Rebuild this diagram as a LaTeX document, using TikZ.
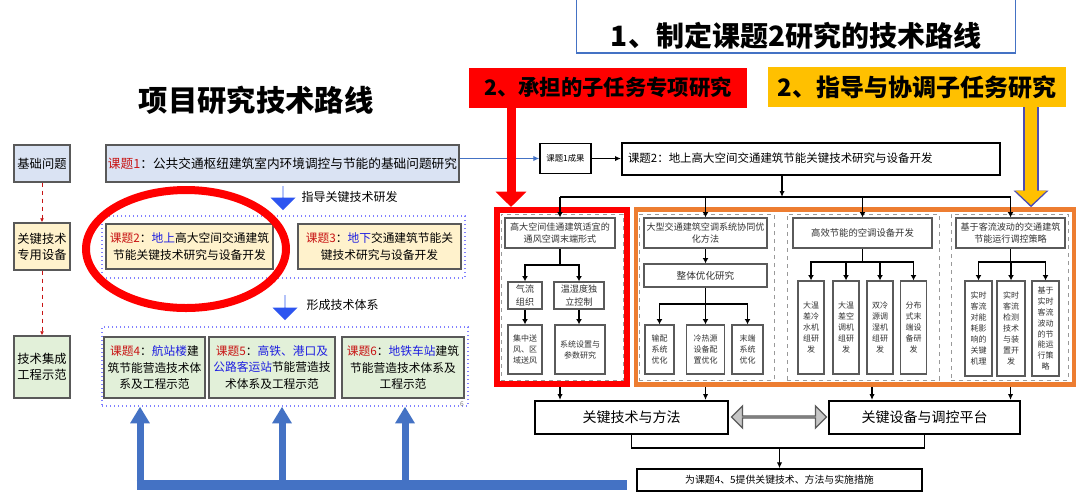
\documentclass[tikz,border=0pt]{standalone}
\usepackage{fontspec}
\setmainfont{Noto Sans CJK SC}
\usetikzlibrary{arrows.meta,positioning,shapes.arrows,shapes.geometric}

\definecolor{kred}{RGB}{200,20,20}
\definecolor{kblue}{RGB}{30,30,225}
\definecolor{lblue}{RGB}{218,227,243}
\definecolor{lyellow}{RGB}{255,242,204}
\definecolor{lgreen}{RGB}{226,240,217}
\definecolor{obar}{RGB}{237,125,49}
\definecolor{ybox}{RGB}{255,192,0}
\definecolor{mblue}{RGB}{68,114,196}
\definecolor{vblue}{RGB}{45,85,240}
\definecolor{dgray}{RGB}{90,90,90}

\newcommand{\kt}[1]{\textcolor{kred}{课题#1}}
\newcommand{\kw}[1]{\textcolor{kblue}{#1}}

\tikzset{%
  >={Latex[width=4pt,length=4.5pt]},
  % sizes are given in pixels of the slide
          wh/.style 2 args = {minimum width=#1*0.75pt, minimum height=#2*0.75pt},
     sidebox/.style = {rectangle, draw=gray!70!black, line width=1.1pt,
                       align=center, inner sep=1pt,
                       font=\fontsize{9.2}{12}\selectfont},
    topicbox/.style = {sidebox, font=\fontsize{8.8}{12.5}\selectfont},
    groupbox/.style = {draw=blue!50, dotted, line width=1pt},
     headbox/.style = {rectangle, draw=black, line width=1.5pt, align=center},
    panelbox/.style = {draw=gray!80, dashed, line width=0.6pt},
     cellbox/.style = {rectangle, draw=dgray, line width=1pt, align=center,
                       inner sep=0.5pt, text=black!80,
                       font=\fontsize{6.8}{9.3}\selectfont},
     tallbox/.style = {cellbox, font=\fontsize{6}{8.2}\selectfont},
        wire/.style = {line width=1.4pt, >={Latex[width=4.5pt,length=4pt]}},
     bluebar/.style = {mblue, line width=7.5pt},
       barup/.style = {mblue, line width=5.25pt, -{Triangle[width=14pt,length=12.5pt]}},
     bigdown/.style = {single arrow, rotate=-90, fill=vblue, inner sep=0pt,
                       single arrow head extend=5.25pt},
     reddash/.style = {dashed, kred, line width=0.7pt, -{Latex[width=3pt,length=3pt]}},
}

\begin{document}
\begin{tikzpicture}[x=0.75pt, y=-0.75pt]
\useasboundingbox[fill=white] (0,0) rectangle (1080,501);

% titles
\node (PT) [font=\fontsize{22}{22}\selectfont\bfseries] at (256,100) {项目研究技术路线};
\node (TB) [draw=mblue, line width=0.8pt, wh={439}{80}] at (796,13) {};
\node (TT) [font=\fontsize{21}{21}\selectfont\bfseries] at (796,36) {1、制定课题2研究的技术路线};
\node (RB) [fill=red, wh={278}{40}, font=\fontsize{16}{16}\selectfont\bfseries] at (608,87.5) {2、承担的子任务专项研究};
\node (YB) [fill=ybox, wh={298}{40}, font=\fontsize{18}{18}\selectfont\bfseries] at (917,87) {2、指导与协调子任务研究};

% left column
\node (L1) [sidebox, fill=lblue, wh={56}{37}] at (42,163.5) {基础问题};
\node (L2) [sidebox, fill=lyellow, wh={56}{47}] at (42,246.5) {关键技术\\专用设备};
\node (L3) [sidebox, fill=lgreen, wh={56}{62}] at (42,367) {技术集成\\工程示范};
\draw[reddash] (L1) -- (L2);
\draw[reddash] (L2) -- (L3);

% project topics
\node (KT1) [topicbox, fill=lblue, wh={353}{37}, font=\fontsize{9.5}{12}\selectfont] at (282.5,163.5) {\kt{1}：公共交通枢纽建筑室内环境调控与节能的基础问题研究};
\node (G1) [groupbox, wh={363}{62}] at (283.5,247) {};
\node (KT2) [topicbox, fill=lyellow, wh={167}{45}] at (189.5,246.5) {\kt{2}：\kw{地上}高大空间交通建筑\\节能关键技术研究与设备开发};
\node (KT3) [topicbox, fill=lyellow, wh={163}{45}] at (379.5,246.5) {\kt{3}：\kw{地下}交通建筑节能关\\键技术研究与设备开发};
\node (G2) [groupbox, wh={366}{79}] at (285,366.5) {};
\node (KT4) [topicbox, fill=lgreen, wh={101}{61}] at (154.5,367.5) {\kt{4}：\kw{航站楼}建\\筑节能营造技术体\\系及工程示范};
\node (KT5) [topicbox, fill=lgreen, wh={126}{61}] at (272,367.5) {\kt{5}：\kw{高铁、港口及}\\\kw{公路客运站}节能营造技\\术体系及工程示范};
\node (KT6) [topicbox, fill=lgreen, wh={122}{61}] at (403,367.5) {\kt{6}：\kw{地铁车站}建筑\\节能营造技术体系及\\工程示范};
\node (PN) [font=\fontsize{5}{5}\selectfont, text=gray] at (462,404) {6};

\node (BA1) [bigdown, wh={25}{24}] at (283,198) {};
\node (GL) [anchor=west, font=\fontsize{9}{11}\selectfont] at (297,197) {指导关键技术研发};
\node (BA2) [bigdown, wh={25}{25}] at (285,307.5) {};
\node (XL) [anchor=west, font=\fontsize{9}{11}\selectfont] at (302,305) {形成技术体系};

\node (EL) [ellipse, draw=red, line width=6pt, wh={200}{118}] at (186,249) {};

% feedback bar
\coordinate (b0) at (136.5,485);
\coordinate (b1) at (140,485);
\coordinate (b2) at (282,485);
\coordinate (b3) at (405,485);
\coordinate (b9) at (627,485);
\draw[bluebar] (b0) -- (b9);
\draw[barup] (b1) -- (b1 |- G2.south);
\draw[barup] (b2) -- (b2 |- G2.south);
\draw[barup] (b3) -- (b3 |- G2.south);

% topic 2 route
\node (R1) [rectangle, draw=black, line width=1pt, wh={51}{30}, font=\fontsize{6.3}{7}\selectfont] at (565.5,158.5) {课题1成果};
\node (K2T) [headbox, wh={378}{32}, text width=274.5pt, inner xsep=4.5pt, align=left, font=\fontsize{8.6}{10}\selectfont] at (811,158.5) {课题2：地上高大空间交通建筑节能关键技术研究与设备开发};
\draw[->, mblue, line width=1.3pt] (KT1.east |- R1) -- (R1);
\draw[->, line width=1pt] (R1) -- (K2T);

\node (RF) [draw=red, line width=4.5pt, wh={130}{174}] at (562,297) {};
\node (OF) [draw=obar, line width=3.4pt, wh={438}{175}] at (855,297) {};
\node (P1) [panelbox, wh={122}{166}] at (562,297) {};
\node (P2) [panelbox, wh={135}{166}] at (706.5,297) {};
\node (P3) [panelbox, wh={152}{166}] at (863,297) {};
\node (P4) [panelbox, wh={117}{166}] at (1009.5,297) {};

% panel 1
\node (T1) [cellbox, wh={110}{30}] at (560,233) {高大空间佳通建筑适宜的\\通风空调末端形式};
\node (A1) [cellbox, wh={34}{27}] at (525,295.5) {气流\\组织};
\node (A2) [cellbox, wh={50}{27}] at (579,295.5) {温湿度独\\立控制};
\node (B1) [tallbox, wh={34}{49}] at (525,349.5) {集中送\\风、区\\域送风};
\node (B2) [tallbox, wh={50}{49}] at (580,349.5) {系统设置与\\参数研究};

% panel 2
\node (T2) [cellbox, wh={123}{30}] at (705.5,233) {大型交通建筑空调系统协同优\\化方法};
\node (M2) [cellbox, wh={123}{23}, font=\fontsize{7.2}{9}\selectfont] at (705.5,275.5) {整体优化研究};
\node (C1) [tallbox, wh={29}{49}] at (659.5,349.5) {输配\\系统\\优化};
\node (C2) [tallbox, wh={38}{49}] at (705.5,349.5) {冷热源\\设备配\\置优化};
\node (C3) [tallbox, wh={31}{49}] at (747.5,349.5) {末端\\系统\\优化};

% panel 3
\node (T3) [cellbox, wh={139}{30}, font=\fontsize{7}{9}\selectfont] at (862.5,233) {高效节能的空调设备开发};
\node (D1) [tallbox, wh={26}{93}] at (811,327.5) {大温\\差冷\\水机\\组研\\发};
\node (D2) [tallbox, wh={26}{93}] at (846,327.5) {大温\\差空\\调机\\组研\\发};
\node (D3) [tallbox, wh={26}{93}] at (880,327.5) {双冷\\源调\\湿机\\组研\\发};
\node (D4) [tallbox, wh={26}{93}] at (913.5,327.5) {分布\\式末\\端设\\备研\\发};

% panel 4
\node (T4) [cellbox, wh={109}{30}] at (1010.5,233) {基于客流波动的交通建筑\\节能运行调控策略};
\node (E1) [tallbox, wh={27}{95}] at (978.5,328.5) {实时\\客流\\对能\\耗影\\响的\\关键\\机理};
\node (E2) [tallbox, wh={28}{95}] at (1011,328.5) {实时\\客流\\检测\\技术\\与装\\置开\\发};
\node (E3) [tallbox, wh={27}{95}] at (1045.5,328.5) {基于\\实时\\客流\\波动\\的节\\能运\\行策\\略};

% results
\node (K1) [headbox, wh={193}{33}, font=\fontsize{10.5}{12}\selectfont] at (631.5,417.5) {关键技术与方法};
\node (K2) [headbox, wh={191}{33}, font=\fontsize{10.5}{12}\selectfont] at (924.5,417.5) {关键设备与调控平台};
\node (DA) [double arrow, draw=dgray, line width=1pt, fill=gray!45, inner sep=0pt,
            double arrow head extend=5.25pt, wh={22}{95}] at (779,417) {};
\node (BT) [rectangle, draw=black, line width=1pt, wh={285}{22}, font=\fontsize{7.4}{9}\selectfont] at (779.5,480) {为课题4、5提供关键技术、方法与实施措施};

% connectors
\draw[red, line width=6.75pt, -{Triangle[width=22.5pt,length=11.5pt]}] (RB.south -| 511,0) -- (RF.north -| 511,0);
\draw[draw=gray!60!blue, line width=12pt, -{Triangle[width=25.5pt,length=12.5pt]}] (YB.south -| 1031,0) -- (OF.north -| 1031,0);
\draw[ybox, line width=9.5pt, shorten >=1.6pt, -{Triangle[width=22.5pt,length=10.8pt]}] (YB.south -| 1031,0) -- (OF.north -| 1031,0);

\coordinate (H) at (782,197);
\draw[->, line width=1pt] (K2T.south -| H) -- (H);
\draw[line width=1.2pt] (T1 |- H) -- (T4 |- H);
\draw[wire, ->] (T1 |- H) -- (T1);
\draw[wire, ->] (T2 |- H) -- (T2);
\draw[wire, ->] (T3 |- H) -- (T3);
\draw[wire, ->] (T4 |- H) -- (T4);

\coordinate (j1) at (560,265);
\draw[wire] (T1) -- (j1);
\draw[wire, ->] (j1) -| (A1);
\draw[wire, ->] (j1) -| (A2);
\draw[wire, ->] (A1) -- (B1);
\draw[wire, ->] (A2) -- (A2 |- B2.north);

\coordinate (j2) at (705.5,304);
\draw[wire, ->] (T2) -- (M2);
\draw[wire] (M2) -- (j2);
\draw[wire, ->] (j2) -| (C1);
\draw[wire, ->] (j2) -- (C2);
\draw[wire, ->] (j2) -| (C3);

\coordinate (j3) at (862.5,262);
\draw[wire] (T3) -- (j3);
\draw[wire, ->] (j3) -| (D1);
\draw[wire, ->] (j3) -| (D2);
\draw[wire, ->] (j3) -| (D3);
\draw[wire, ->] (j3) -| (D4);

\coordinate (j4) at (1010.5,262);
\draw[wire] (T4) -- (j4);
\draw[wire, ->] (j4) -| (E1);
\draw[wire, ->] (j4) -| (E2);
\draw[wire, ->] (j4) -| (E3);

\coordinate (d3) at (872,0);
\draw[->, line width=1pt] (RF.south -| T1) -- (K1.north -| T1);
\draw[->, line width=1pt] (OF.south -| T2) -- (K1.north -| T2);
\draw[->, line width=1pt] (OF.south -| d3) -- (K2.north -| d3);
\draw[->, line width=1pt] (OF.south -| T4) -- (K2.north -| T4);

\coordinate (jb) at (779.5,448);
\draw[line width=1.2pt] (K1.south) |- (jb) -| (K2.south);
\draw[->, line width=1pt] (jb) -- (BT);
\end{tikzpicture}
\end{document}
